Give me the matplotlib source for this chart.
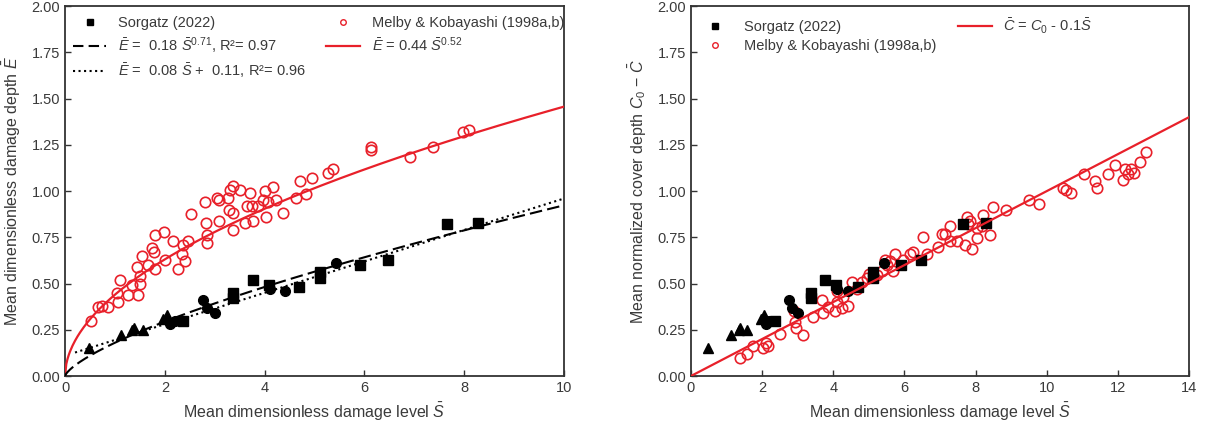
import numpy as np
import matplotlib
matplotlib.use("Agg")
from matplotlib import pyplot as plt

plt.rcParams['font.family'] = ['Liberation Sans', 'DejaVu Sans']
plt.rcParams['mathtext.fontset'] = 'custom'
plt.rcParams['mathtext.rm'] = 'Liberation Sans'
plt.rcParams['mathtext.it'] = 'Liberation Sans:italic'
txt = '#3a3a3a'

# Sorgatz (2022) - same points in both panels
sorg_tri_S = [0.49, 1.13, 1.34, 1.38, 1.57, 1.97, 2.04]
sorg_tri_E = [0.15, 0.22, 0.25, 0.26, 0.25, 0.31, 0.33]
sorg_cir_S = [2.10, 2.20, 2.77, 2.84, 3.01, 4.11, 4.41, 5.44]
sorg_cir_E = [0.28, 0.30, 0.41, 0.37, 0.34, 0.47, 0.46, 0.61]
sorg_sq_S = [2.37, 3.37, 3.37, 3.77, 4.09, 4.69, 5.11, 5.11, 5.91, 6.47, 7.65, 8.28]
sorg_sq_E = [0.30, 0.45, 0.42, 0.52, 0.49, 0.48, 0.56, 0.53, 0.60, 0.63, 0.82, 0.83]

# Melby & Kobayashi (1998a,b) - damage depth
melby_S = [0.53, 0.67, 0.75, 0.87, 1.04, 1.07, 1.10, 1.27, 1.34, 1.44, 1.47, 1.50, 1.50,
           1.54, 1.67, 1.74, 1.79, 1.80, 1.80, 1.98, 2.00, 2.17, 2.27, 2.34, 2.37, 2.40,
           2.46, 2.52, 2.81, 2.84, 2.84, 2.83, 3.04, 3.09, 3.09, 3.27, 3.29, 3.31, 3.37,
           3.37, 3.37, 3.51, 3.61, 3.64, 3.71, 3.74, 3.76, 3.87, 3.97, 4.01, 4.03, 4.07,
           4.17, 4.23, 4.37, 4.63, 4.70, 4.83, 4.94, 5.28, 5.38, 6.13, 6.13, 6.91, 7.37,
           7.98, 8.09]
melby_E = [0.30, 0.375, 0.38, 0.375, 0.45, 0.40, 0.52, 0.44, 0.49, 0.59, 0.44, 0.50, 0.54,
           0.65, 0.60, 0.69, 0.67, 0.76, 0.58, 0.78, 0.63, 0.73, 0.58, 0.66, 0.71, 0.62,
           0.73, 0.875, 0.94, 0.72, 0.76, 0.83, 0.965, 0.95, 0.84, 0.965, 0.90, 1.005, 1.03,
           0.88, 0.79, 1.005, 0.83, 0.92, 0.99, 0.92, 0.84, 0.92, 0.95, 1.00, 0.86, 0.94,
           1.02, 0.95, 0.88, 0.965, 1.055, 0.985, 1.07, 1.10, 1.12, 1.24, 1.22, 1.185, 1.24,
           1.32, 1.33]

# Melby & Kobayashi (1998a,b) - normalized cover depth
melby_S2 = [1.38, 1.57, 1.75, 2.02, 2.17, 2.50, 2.92, 2.95, 3.14, 2.90, 3.44, 3.67, 3.72,
            3.86, 4.05, 4.24, 4.10, 4.42, 4.28, 4.54, 4.66, 4.80, 4.94, 5.22, 5.36, 5.45,
            5.50, 5.59, 5.74, 5.69, 5.97, 6.16, 6.25, 6.51, 6.64, 6.95, 7.05, 7.14, 7.28,
            7.28, 7.47, 7.70, 7.75, 7.80, 7.89, 8.03, 8.03, 7.84, 8.20, 8.17, 8.41, 8.50,
            8.86, 9.51, 9.79, 10.45, 10.54, 10.68, 11.06, 11.36, 11.41, 11.73, 11.92, 12.15,
            12.20, 12.29, 12.36, 12.44, 12.62, 12.79, 4.10, 5.00, 2.10]
melby_C2 = [0.10, 0.12, 0.16, 0.15, 0.165, 0.225, 0.29, 0.26, 0.22, 0.35, 0.32, 0.41, 0.34,
            0.375, 0.35, 0.37, 0.40, 0.38, 0.43, 0.51, 0.47, 0.51, 0.53, 0.545, 0.57, 0.63,
            0.60, 0.62, 0.66, 0.57, 0.63, 0.66, 0.67, 0.75, 0.66, 0.70, 0.77, 0.77, 0.81,
            0.73, 0.73, 0.71, 0.86, 0.82, 0.685, 0.745, 0.80, 0.84, 0.87, 0.81, 0.76, 0.915,
            0.90, 0.95, 0.93, 1.015, 1.005, 0.99, 1.09, 1.055, 1.015, 1.09, 1.14, 1.06,
            1.12, 1.09, 1.12, 1.10, 1.16, 1.21, 0.46, 0.55, 0.18]

# fit curves
s1 = np.linspace(0, 10, 400)
s_dot = np.linspace(0.2, 10, 100)
s2 = np.linspace(0, 14, 100)

fig = plt.figure(figsize=(12.09, 4.32), dpi=100)
ax1 = fig.add_axes([0.0538, 0.1296, 0.4127, 0.856])
ax2 = fig.add_axes([0.5715, 0.1296, 0.412, 0.856])

red = '#e8202a'
msz = 7

# ---- left panel
ax1.plot(melby_S, melby_E, 'o', mfc='none', mec=red, mew=1.2, ms=7.5, zorder=2)
ax1.plot(sorg_sq_S, sorg_sq_E, 's', color='black', ms=msz, zorder=3)
ax1.plot(sorg_cir_S, sorg_cir_E, 'o', color='black', ms=msz, zorder=3)
ax1.plot(sorg_tri_S, sorg_tri_E, '^', color='black', ms=msz, zorder=3)
ax1.plot(s1, 0.44 * s1 ** 0.52, '-', color=red, lw=1.6, zorder=4)
ax1.plot(s1, 0.18 * s1 ** 0.71, '--', color='black', lw=1.5, dashes=(6, 2.5), zorder=4)
ax1.plot(s_dot, 0.085 * s_dot + 0.11, ':', color='black', lw=1.5, zorder=4)

h_sq = ax1.plot([], [], 's', color='black', ms=4)[0]
h_ci = ax1.plot([], [], 'o', mfc='none', mec=red, mew=1.0, ms=4)[0]
h_da = ax1.plot([], [], '--', color='black', lw=1.5, dashes=(5, 2.5))[0]
h_do = ax1.plot([], [], ':', color='black', lw=1.5)[0]
h_rl = ax1.plot([], [], '-', color=red, lw=1.6)[0]
blank = ax1.plot([], [], ' ')[0]
ax1.legend([h_sq, h_da, h_do, h_ci, h_rl, blank],
           ['Sorgatz (2022)',
            r'$\bar{E}$ =  0.18 $\bar{S}^{0.71}$, R²= 0.97',
            r'$\bar{E}$ =  0.08 $\bar{S}$ +  0.11, R²= 0.96',
            'Melby & Kobayashi (1998a,b)',
            r'$\bar{E}$ = 0.44 $\bar{S}^{0.52}$', ''],
           ncol=2, loc='upper left', frameon=False, fontsize=10.5,
           labelcolor=txt, handlelength=2.3, columnspacing=1.4,
           bbox_to_anchor=(-0.005, 1.0), borderaxespad=0.3, labelspacing=0.35)

ax1.set_xlim(0, 10)
ax1.set_ylim(0, 2)
ax1.set_xticks([0, 2, 4, 6, 8, 10])
ax1.set_yticks(np.arange(0, 2.01, 0.25))
ax1.yaxis.set_major_formatter(matplotlib.ticker.FormatStrFormatter('%.2f'))
ax1.set_xlabel(r'Mean dimensionless damage level $\bar{S}$', fontsize=11.5, color=txt, labelpad=4)
ax1.set_ylabel(r'Mean dimensionless damage depth $\bar{E}$', fontsize=11.5, color=txt, labelpad=6)

# ---- right panel
ax2.plot(melby_S2, melby_C2, 'o', mfc='none', mec=red, mew=1.2, ms=7.5, zorder=2)
ax2.plot(sorg_sq_S, sorg_sq_E, 's', color='black', ms=msz, zorder=3)
ax2.plot(sorg_cir_S, sorg_cir_E, 'o', color='black', ms=msz, zorder=3)
ax2.plot(sorg_tri_S, sorg_tri_E, '^', color='black', ms=msz, zorder=3)
ax2.plot(s2, 0.1 * s2, '-', color=red, lw=1.6, zorder=4)

g_sq = ax2.plot([], [], 's', color='black', ms=4)[0]
g_ci = ax2.plot([], [], 'o', mfc='none', mec=red, mew=1.0, ms=4)[0]
g_rl = ax2.plot([], [], '-', color=red, lw=1.6)[0]
blank2 = ax2.plot([], [], ' ')[0]
ax2.legend([g_sq, g_ci, g_rl, blank2],
           ['Sorgatz (2022)', 'Melby & Kobayashi (1998a,b)',
            r'$\bar{C}$ = $C_0$ - 0.1$\bar{S}$', ''],
           ncol=2, loc='upper left', frameon=False, fontsize=10.5,
           labelcolor=txt, handlelength=2.3, columnspacing=1.5,
           bbox_to_anchor=(-0.005, 1.0), borderaxespad=0.3, labelspacing=0.35)

ax2.set_xlim(0, 14)
ax2.set_ylim(0, 2)
ax2.set_xticks([0, 2, 4, 6, 8, 10, 12, 14])
ax2.set_yticks(np.arange(0, 2.01, 0.25))
ax2.yaxis.set_major_formatter(matplotlib.ticker.FormatStrFormatter('%.2f'))
ax2.set_xlabel(r'Mean dimensionless damage level $\bar{S}$', fontsize=11.5, color=txt, labelpad=4)
ax2.set_ylabel(r'Mean normalized cover depth $C_0$ $-$ $\bar{C}$', fontsize=11.5, color=txt, labelpad=6)

for ax in (ax1, ax2):
    ax.tick_params(direction='in', length=4, width=1, labelsize=10.5, labelcolor=txt, color='#333333')
    for sp in ax.spines.values():
        sp.set_linewidth(1.3)
        sp.set_color('#333333')

fig.savefig('out.png', dpi=100)
